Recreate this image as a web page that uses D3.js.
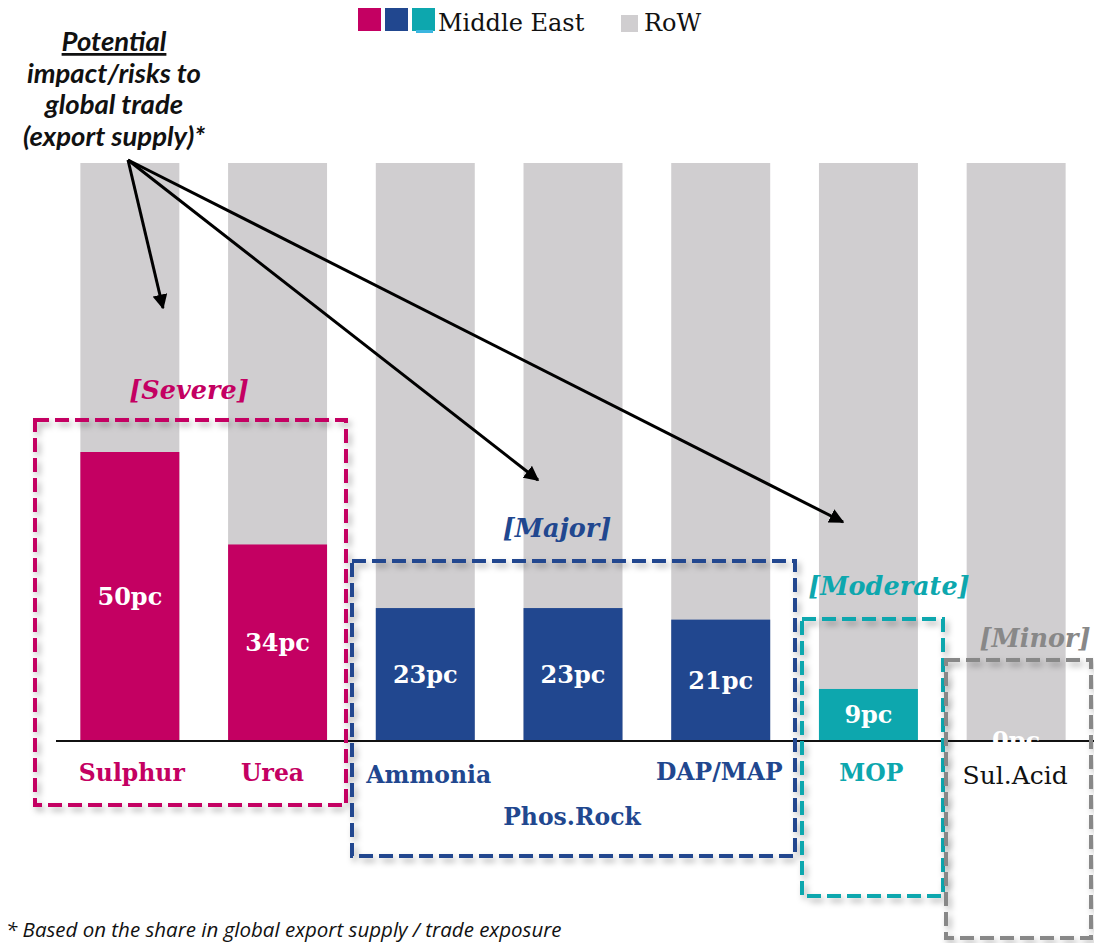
<!DOCTYPE html>
<html><head><meta charset="utf-8">
<script src="https://cdn.jsdelivr.net/npm/d3@7"></script>
<style>body{margin:0;background:#fff}svg{display:block}</style>
</head><body>
<svg id="c" width="1094" height="943"></svg>
<script>
// ---- data ----
const categories = ["Sulphur","Urea","Ammonia","Phos.Rock","DAP/MAP","MOP","Sul.Acid"];
const middleEast = [50, 34, 23, 23, 21, 9, 0];
const totalShare = [100, 100, 100, 100, 100, 100, 100];
const riskGroup = ["Severe","Severe","Major","Major","Major","Moderate","Minor"];
const groups = ["Severe","Major","Moderate","Minor"];
const legendLabels = ["Middle East","RoW"];
const titleLines = ["Potential","impact/risks to","global trade","(export supply)*"];
const arrowTargets = ["Sulphur","Phos.Rock","MOP"];
const footnote = "* Based on the share in global export supply / trade exposure";

// ---- styles ----
const groupColor = {Severe:"#C40062", Major:"#21478F", Moderate:"#0DA7AE", Minor:"#888888"};
const labelColor = {Severe:"#C40062", Major:"#21478F", Moderate:"#0DA7AE", Minor:"#111111"};
const rowColor = "#D0CED0";
const serif = "'DejaVu Serif', serif";

const svg = d3.select("#c");
const defs = svg.append("defs");
const f = defs.append("filter").attr("id","sh").attr("x","-10%").attr("y","-10%").attr("width","130%").attr("height","130%");
f.append("feDropShadow").attr("dx",3).attr("dy",4).attr("stdDeviation",3).attr("flood-color","#000").attr("flood-opacity",0.3);

const x = d3.scaleBand().domain(categories).range([56, 1090]).paddingInner(0.33).paddingOuter(0.165);
const y = d3.scaleLinear().domain([0,100]).range([741,163]);

// bars
const data = categories.map((c,i)=>({c, me:middleEast[i], tot:totalShare[i], g:riskGroup[i]}));
svg.append("g").selectAll("rect").data(data).join("rect")
  .attr("x",d=>x(d.c)).attr("width",x.bandwidth())
  .attr("y",d=>y(d.tot)).attr("height",d=>y(0)-y(d.tot)).attr("fill",rowColor);
svg.append("g").selectAll("rect").data(data).join("rect")
  .attr("x",d=>x(d.c)).attr("width",x.bandwidth())
  .attr("y",d=>y(d.me)).attr("height",d=>y(0)-y(d.me)).attr("fill",d=>groupColor[d.g]);

// axis line
svg.append("g").attr("transform",`translate(0,${y(0)})`)
  .call(d3.axisBottom(x).tickSize(0).tickFormat(""))
  .call(g=>g.select(".domain").attr("stroke","#111").attr("stroke-width",2).attr("d","M56,0H1094"));

// value labels
svg.append("g").selectAll("text").data(data).join("text")
  .attr("x",d=>x(d.c)+x.bandwidth()/2)
  .attr("y",d=>(y(d.me)+y(0))/2)
  .attr("dy","0.35em").attr("text-anchor","middle")
  .attr("font-family",serif).attr("font-weight","bold").attr("font-size",24)
  .attr("fill","#fff").text(d=>d.me+"pc");

// group boxes
const boxPos = {
  Severe:{x0:35,x1:346,y0:420,y1:805, lx:189, ly:399},
  Major:{x0:352,x1:795,y0:561,y1:856, lx:557, ly:537},
  Moderate:{x0:802,x1:943,y0:619,y1:896, lx:889, ly:595},
  Minor:{x0:946,x1:1091,y0:660,y1:938, lx:1035, ly:647}
};
const bg = svg.append("g");
groups.forEach(g=>{
  const b = boxPos[g];
  bg.append("rect").attr("x",b.x0).attr("y",b.y0).attr("width",b.x1-b.x0).attr("height",b.y1-b.y0)
    .attr("fill","none").attr("stroke",groupColor[g]).attr("stroke-width",4)
    .attr("stroke-dasharray","14,6").attr("filter","url(#sh)");
  bg.append("text").attr("x",b.lx).attr("y",b.ly).attr("text-anchor","middle")
    .attr("font-family",serif).attr("font-style","italic").attr("font-weight","bold").attr("font-size",25.5)
    .attr("fill",groupColor[g]).text(`[${g}]`);
});

// category labels
const catOffset = {"Sulphur":[2,0,"middle"],"Urea":[-5,0,"middle"],"Ammonia":[-59,2,"start"],
  "Phos.Rock":[-1,44,"middle"],"DAP/MAP":[62,-1,"end"],"MOP":[3,0,"middle"],"Sul.Acid":[-1,2,"middle"]};
svg.append("g").selectAll("text").data(data).join("text")
  .attr("x",d=>x(d.c)+x.bandwidth()/2+catOffset[d.c][0])
  .attr("y",d=>773+catOffset[d.c][1]).attr("dy","0.35em")
  .attr("text-anchor",d=>catOffset[d.c][2])
  .attr("font-family",serif).attr("font-weight",d=>d.g==="Minor"?"normal":"bold")
  .attr("font-size",d=>d.g==="Minor"?25:23.5)
  .attr("fill",d=>labelColor[d.g]).text(d=>d.c);

// legend
const lg = svg.append("g");
[groupColor.Severe, groupColor.Major, groupColor.Moderate].forEach((c,i)=>{
  lg.append("rect").attr("x",358+i*27).attr("y",8).attr("width",23).attr("height",23).attr("fill",c);
});
lg.append("rect").attr("x",416).attr("y",30).attr("width",17).attr("height",3).attr("fill","#3BB6E0");
lg.append("text").attr("x",438).attr("y",31).attr("font-family",serif).attr("font-size",24).attr("fill","#111").text(legendLabels[0]);
lg.append("rect").attr("x",621).attr("y",15).attr("width",17).attr("height",17).attr("fill",rowColor);
lg.append("text").attr("x",644).attr("y",31).attr("font-family",serif).attr("font-size",24).attr("fill","#111").text(legendLabels[1]);

// title
const tg = svg.append("g");
titleLines.forEach((t,i)=>{
  tg.append("text").attr("x",114).attr("y",51+i*31.5).attr("text-anchor","middle")
    .attr("font-family","Lato, sans-serif").attr("font-style","italic").attr("font-weight","bold")
    .attr("font-size",27.5).attr("fill","#111")
    .attr("text-decoration",i===0?"underline":null).text(t);
});

// arrows
const mk = defs.append("marker").attr("id","ah").attr("viewBox","0 0 10 10").attr("refX",9).attr("refY",5)
  .attr("markerWidth",5).attr("markerHeight",5).attr("orient","auto-start-reverse").attr("markerUnits","strokeWidth");
mk.append("path").attr("d","M0,0L10,5L0,10z").attr("fill","#000");
const arrowEnd = {"Sulphur":[163,308],"Phos.Rock":[538,480],"MOP":[843,522]};
svg.append("g").selectAll("line").data(arrowTargets).join("line")
  .attr("x1",128).attr("y1",160).attr("x2",d=>arrowEnd[d][0]).attr("y2",d=>arrowEnd[d][1])
  .attr("stroke","#000").attr("stroke-width",3).attr("marker-end","url(#ah)");

// footnote
svg.append("text").attr("x",6).attr("y",937).attr("font-family","'Open Sans', sans-serif")
  .attr("font-style","italic").attr("font-size",20.5).attr("fill","#111").text(footnote);
</script>
</body></html>
